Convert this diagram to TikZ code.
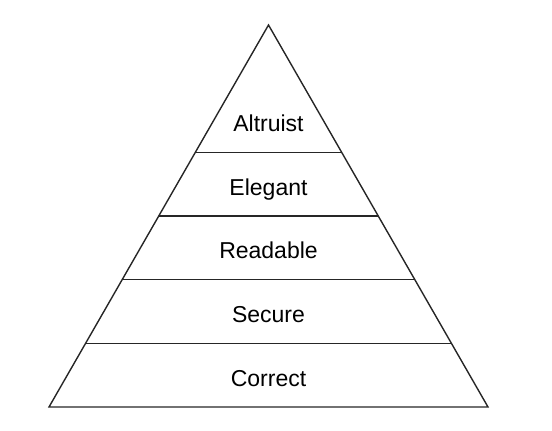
\documentclass[tikz,border=0pt]{standalone}
\usepackage{fontspec}
\setmainfont{Liberation Sans}
\usetikzlibrary{calc}
\begin{document}
\begin{tikzpicture}[x=1pt, y=-1pt,
    tier label/.style={anchor=base, font=\fontsize{23}{27}\selectfont},
    tier line/.style={line width=1.4pt, line join=miter, draw=black!85}]
  \useasboundingbox (0,0) rectangle (552,431);
  \coordinate (top) at (268.5,25);
  \coordinate (left) at (49,407);
  \coordinate (right) at (488,407);

  \foreach \t [count=\i] in {2,3,4,5,6} {
    \coordinate (l-\i) at ($(top)!\t/6!(left)$);
    \coordinate (r-\i) at ($(top)!\t/6!(right)$);
  }

  \draw [tier line] (left) -- (top) -- (right) -- cycle;
  \foreach \i in {1,...,4}
    \draw [tier line] (l-\i) -- (r-\i);

  \foreach \l [count=\i] in {Altruist, Elegant, Readable, Secure, Correct}
    \node [tier label] (tier-\i) at ($(l-\i)!0.5!(r-\i) + (0,-21)$) {\l};
\end{tikzpicture}
\end{document}
